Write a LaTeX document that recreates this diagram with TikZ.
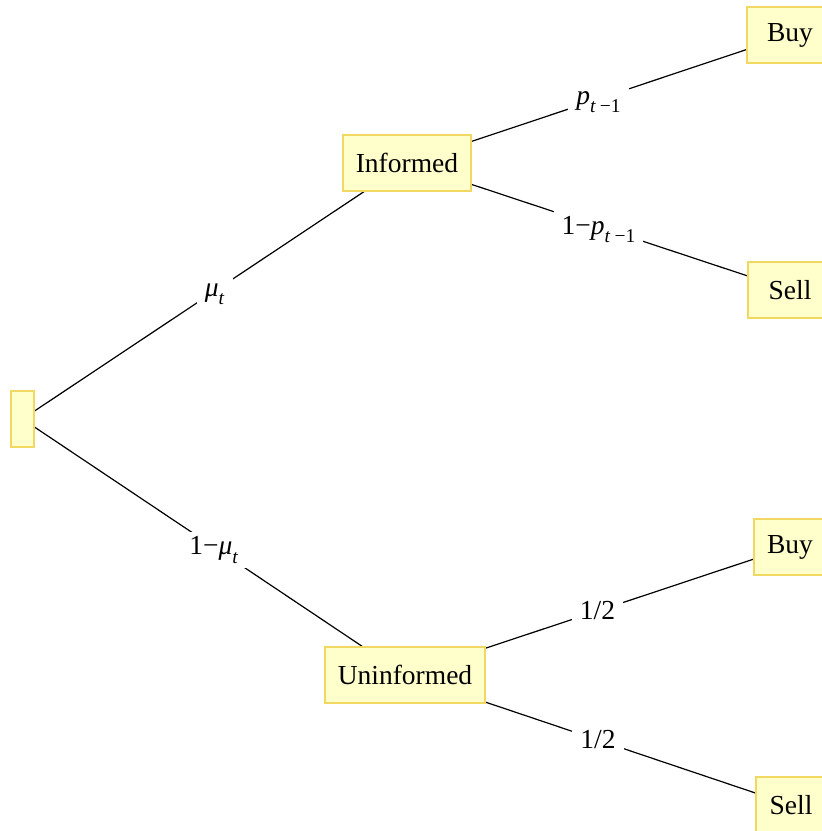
\documentclass[tikz,border=0pt]{standalone}
\usepackage{fontspec}
\setmainfont{Liberation Serif}
\usetikzlibrary{backgrounds}
\newcommand\fs{\fontsize{27.5}{33}\selectfont}
\newcommand\subs[1]{\raisebox{-0.3em}{\fontsize{19.5}{21}\selectfont #1}}
\definecolor{boxfill}{HTML}{FFFFCC}
\definecolor{boxedge}{HTML}{F0D862}
\begin{document}
\begin{tikzpicture}[x=1pt,y=-1pt,
  box/.style={draw=boxedge, fill=boxfill, line width=2.4pt, minimum height=56pt, inner xsep=13pt, inner ysep=0pt, font=\fs},
  lab/.style={fill=white, inner xsep=8pt, inner ysep=5pt, font=\fs},
  sublab/.style={lab, yshift=-3pt},
  conn/.style={line width=1.2pt}]
\useasboundingbox (0,0) rectangle (822,831);
\node[box, minimum width=23pt, inner sep=0pt] (root) at (22.5,419) {};
\node[box] (inf) at (407,163) {Informed};
\node[box] (uninf) at (405,675) {Uninformed};
\node[box, minimum width=86pt] (buy1) at (790,35) {Buy};
\node[box, minimum width=84pt] (sell1) at (790,290) {Sell};
\node[box, minimum width=70pt] (buy2) at (790,547) {Buy};
\node[box, minimum width=70pt] (sell2) at (791,805) {Sell};
\begin{scope}[on background layer]
\draw[conn] (root.center) -- node[sublab] {\textit{μ}\subs{\textit{t}}} (inf.center);
\draw[conn] (root.center) -- node[sublab] {1−\textit{μ}\subs{\textit{t}}} (uninf.center);
\draw[conn] (inf.center) -- node[sublab] {\textit{p}\subs{\textit{t}\hspace{4pt}−1}} (buy1.center);
\draw[conn] (inf.center) -- node[sublab] {1−\textit{p}\subs{\textit{t}\hspace{4pt}−1}} (sell1.center);
\draw[conn] (uninf.center) -- node[lab] {1/2} (buy2.center);
\draw[conn] (uninf.center) -- node[lab] {1/2} (sell2.center);
\end{scope}
\end{tikzpicture}
\end{document}
